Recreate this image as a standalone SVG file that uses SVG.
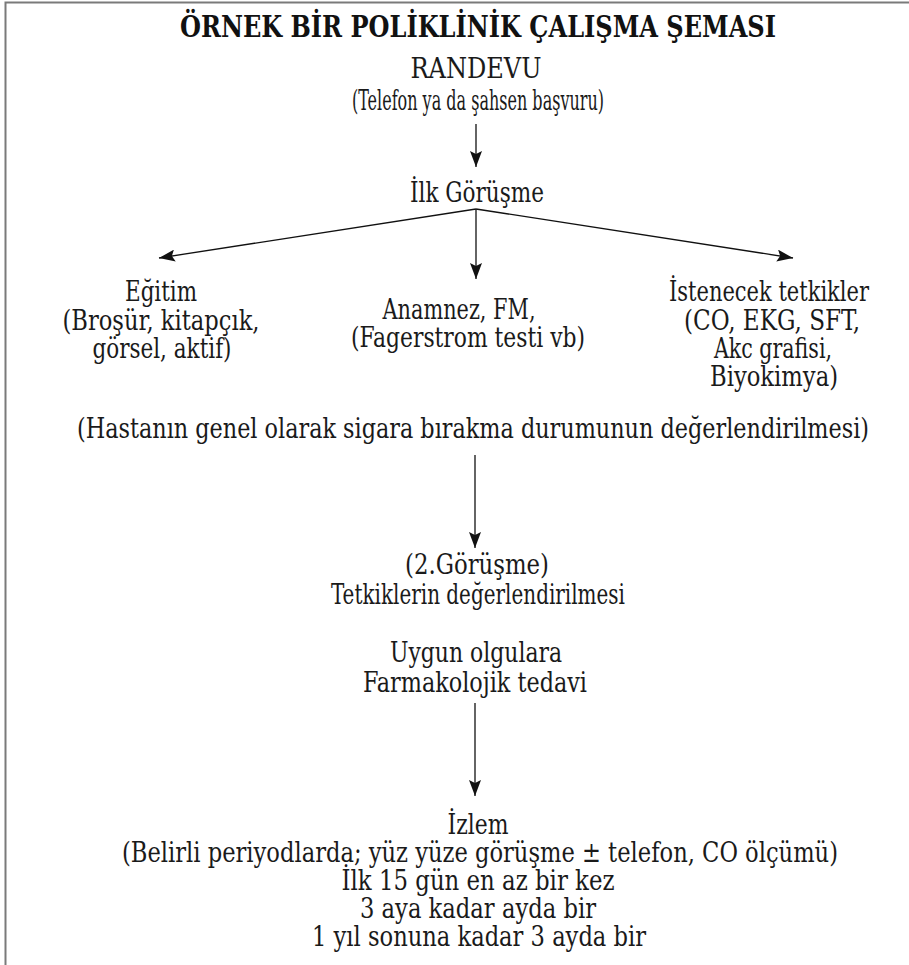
<svg xmlns="http://www.w3.org/2000/svg" width="909" height="965" viewBox="0 0 909 965">
  <style>
    .t { font-family: "DejaVu Serif", "Liberation Serif", serif; font-stretch: condensed; font-size: 27px; fill: #1a1a1a; text-anchor: middle; }
    .h { font-family: "DejaVu Serif", "Liberation Serif", serif; font-stretch: condensed; font-size: 29px; font-weight: bold; fill: #111; text-anchor: middle; }
    .frame { stroke: #7a7a7a; stroke-width: 2; fill: none; }
    .link { stroke: #111; stroke-width: 1.3; fill: none; marker-end: url(#head); }
  </style>
  <defs>
    <marker id="head" viewBox="0 0 16 12" refX="16" refY="6" markerWidth="16" markerHeight="12" markerUnits="userSpaceOnUse" orient="auto">
      <path d="M0,0 L16,6 L0,12 L3,6 Z" fill="#111"/>
    </marker>
  </defs>

  <rect width="909" height="965" fill="#fff"/>
  <!-- open frame: top and left edges only -->
  <path class="frame" d="M5.5,965 V2.5 H909"/>

  <text class="h" x="478" y="37" textLength="596" lengthAdjust="spacingAndGlyphs">ÖRNEK BİR POLİKLİNİK ÇALIŞMA ŞEMASI</text>

  <g id="randevu">
    <text class="t" x="476" y="78" textLength="131" lengthAdjust="spacingAndGlyphs">RANDEVU</text>
    <text class="t" x="478" y="110" textLength="252" lengthAdjust="spacingAndGlyphs">(Telefon ya da şahsen başvuru)</text>
  </g>

  <g id="ilk-gorusme">
    <text class="t" x="477" y="202" textLength="134" lengthAdjust="spacingAndGlyphs">İlk Görüşme</text>
  </g>

  <g id="egitim">
    <text class="t" x="161" y="301" textLength="72" lengthAdjust="spacingAndGlyphs">Eğitim</text>
    <text class="t" x="161" y="330" textLength="197" lengthAdjust="spacingAndGlyphs">(Broşür, kitapçık,</text>
    <text class="t" x="162" y="358" textLength="139" lengthAdjust="spacingAndGlyphs">görsel, aktif)</text>
  </g>

  <g id="anamnez">
    <text class="t" x="459" y="319" textLength="153" lengthAdjust="spacingAndGlyphs">Anamnez, FM,</text>
    <text class="t" x="468" y="347" textLength="234" lengthAdjust="spacingAndGlyphs">(Fagerstrom testi vb)</text>
  </g>

  <g id="tetkikler">
    <text class="t" x="769" y="301" textLength="200" lengthAdjust="spacingAndGlyphs">İstenecek tetkikler</text>
    <text class="t" x="772" y="330" textLength="176" lengthAdjust="spacingAndGlyphs">(CO, EKG, SFT,</text>
    <text class="t" x="773" y="358" textLength="118" lengthAdjust="spacingAndGlyphs">Akc grafisi,</text>
    <text class="t" x="774" y="386" textLength="128" lengthAdjust="spacingAndGlyphs">Biyokimya)</text>
  </g>

  <g id="degerlendirme">
    <text class="t" x="473" y="438" textLength="792" lengthAdjust="spacingAndGlyphs">(Hastanın genel olarak sigara bırakma durumunun değerlendirilmesi)</text>
  </g>

  <g id="gorusme-2">
    <text class="t" x="477" y="574" textLength="144" lengthAdjust="spacingAndGlyphs">(2.Görüşme)</text>
    <text class="t" x="478" y="604" textLength="294" lengthAdjust="spacingAndGlyphs">Tetkiklerin değerlendirilmesi</text>
  </g>

  <g id="tedavi">
    <text class="t" x="476" y="662" textLength="172" lengthAdjust="spacingAndGlyphs">Uygun olgulara</text>
    <text class="t" x="475" y="692" textLength="224" lengthAdjust="spacingAndGlyphs">Farmakolojik tedavi</text>
  </g>

  <g id="izlem">
    <text class="t" x="478" y="834" textLength="61" lengthAdjust="spacingAndGlyphs">İzlem</text>
    <text class="t" x="480" y="862" textLength="716" lengthAdjust="spacingAndGlyphs">(Belirli periyodlarda; yüz yüze görüşme ± telefon, CO ölçümü)</text>
    <text class="t" x="478" y="890" textLength="273" lengthAdjust="spacingAndGlyphs">İlk 15 gün en az bir kez</text>
    <text class="t" x="478" y="918" textLength="236" lengthAdjust="spacingAndGlyphs">3 aya kadar ayda bir</text>
    <text class="t" x="479" y="946" textLength="334" lengthAdjust="spacingAndGlyphs">1 yıl sonuna kadar 3 ayda bir</text>
  </g>

  <g id="connectors">
    <path class="link" d="M476,124 V167"/>
    <path class="link" d="M476,209 L159,258"/>
    <path class="link" d="M476,209 V279"/>
    <path class="link" d="M476,209 L793,258"/>
    <path class="link" d="M475,455 V548"/>
    <path class="link" d="M475,703 V796"/>
  </g>
</svg>
